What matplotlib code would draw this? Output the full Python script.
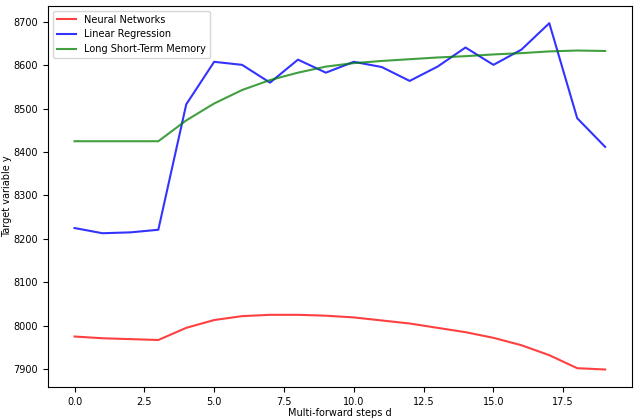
import numpy as np
import matplotlib
matplotlib.use('Agg')
import matplotlib.pyplot as plt

# langkah ke depan
steps = np.arange(20)

neural_networks = [7975, 7971, 7969, 7967, 7995, 8013, 8022, 8025, 8025, 8023,
                   8019, 8012, 8005, 7995, 7985, 7972, 7955, 7932, 7902, 7899]
linear_regression = [8225, 8213, 8215, 8221, 8510, 8608, 8601, 8560, 8613, 8583,
                     8608, 8596, 8564, 8597, 8641, 8601, 8636, 8697, 8478, 8412]
lstm = [8425, 8425, 8425, 8425, 8473, 8512, 8543, 8566, 8583, 8597,
        8605, 8610, 8614, 8618, 8621, 8625, 8628, 8632, 8634, 8633]

plt.rcParams['font.size'] = 7

fig = plt.figure(figsize=(6.4, 4.2), dpi=100)
ax = fig.add_axes([0.075, 0.079, 0.912, 0.907])

ax.plot(steps, neural_networks, color='red', alpha=0.75, label='Neural Networks')
ax.plot(steps, linear_regression, color='blue', alpha=0.8, label='Linear Regression')
ax.plot(steps, lstm, color='green', alpha=0.75, label='Long Short-Term Memory')

ax.set_xlabel('Multi-forward steps d', labelpad=1)
ax.set_ylabel('Target variable y', labelpad=1)
ax.legend(loc='upper left')

fig.savefig('out.png')
